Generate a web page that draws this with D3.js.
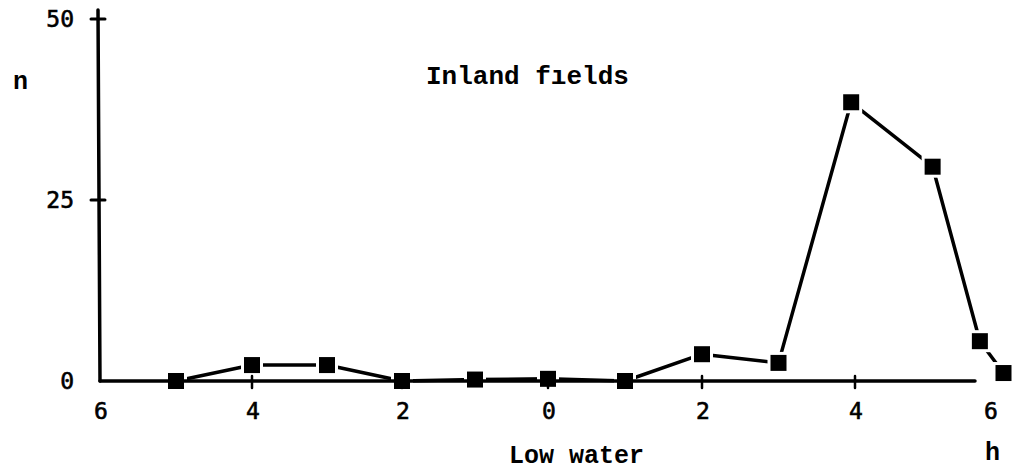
<!DOCTYPE html>
<html>
<head>
<meta charset="utf-8">
<script src="https://cdn.jsdelivr.net/npm/d3@7"></script>
<style>
  html, body { margin: 0; padding: 0; background: #fff; }
  svg { display: block; }
  .type { font-family: "Liberation Mono", "Courier New", monospace; fill: #000; font-weight: bold; }
  .num  { font-family: "DejaVu Sans Mono", monospace; fill: #000; }
</style>
</head>
<body>
<svg id="chart" width="1022" height="472"></svg>
<script>
// Hours relative to low water (negative = before, positive = after)
const hours  = [-5, -4, -3, -2, -1, 0, 1, 2, 3, 3.95, 5.15, 5.85, 6.2];
// Counts (n) per hour
const counts = [0, 2.2, 2.2, 0, 0.2, 0.3, 0, 3.7, 2.5, 38.5, 29.6, 5.5, 1.1];
// Axis ticks
const xTicks = [-6, -4, -2, 0, 2, 4, 6];
const yTicks = [0, 25, 50];

const svg = d3.select("#chart");

// Hand-spaced hour axis: labels run 6 … 0 … 6
const x = d3.scaleLinear()
  .domain([-6, -4, -2, 0, 2, 4, 6])
  .range([100, 252, 402, 548, 702, 855, 990]);
const y = d3.scaleLinear().domain([0, 50]).range([381, 19]);

const axisX0 = x(-6), axisX1 = 975;

// Connecting line
const line = d3.line().x((d, i) => x(hours[i])).y(d => y(d));
svg.append("path")
  .datum(counts)
  .attr("d", line)
  .attr("fill", "none")
  .attr("stroke", "#000")
  .attr("stroke-width", 3.5)
  .attr("stroke-linejoin", "round");

// White halos leave a small gap between the line and each marker
const sz = 16, halo = 22;
svg.append("g").selectAll("rect")
  .data(counts)
  .join("rect")
  .attr("x", (d, i) => x(hours[i]) - halo / 2)
  .attr("y", d => y(d) - halo / 2)
  .attr("width", halo)
  .attr("height", halo)
  .attr("fill", "#fff");

// Axes
const axisG = svg.append("g").attr("stroke", "#000").attr("stroke-linecap", "round");
axisG.append("line")
  .attr("x1", axisX0).attr("x2", axisX1)
  .attr("y1", y(0)).attr("y2", y(0))
  .attr("stroke-width", 3.5);
axisG.append("line")
  .attr("x1", axisX0 - 2).attr("x2", axisX0)
  .attr("y1", 10).attr("y2", y(0))
  .attr("stroke-width", 3.5);

// y ticks: short crossing marks
axisG.selectAll(".yt")
  .data(yTicks.filter(d => d > 0))
  .join("line")
  .attr("x1", axisX0 - 9).attr("x2", axisX0 + 5)
  .attr("y1", d => y(d)).attr("y2", d => y(d))
  .attr("stroke-width", 3);

// x ticks: short crossing marks
axisG.selectAll(".xt")
  .data(xTicks.filter(d => d > -6 && d < 6))
  .join("line")
  .attr("x1", d => x(d)).attr("x2", d => x(d))
  .attr("y1", y(0) - 5).attr("y2", y(0) + 7)
  .attr("stroke-width", 2.5);

// Tick labels
svg.append("g").selectAll("text")
  .data(yTicks)
  .join("text")
  .attr("class", "num")
  .attr("x", 74)
  .attr("y", d => y(d) + 8)
  .attr("text-anchor", "end")
  .attr("font-size", 23)
  .attr("stroke", "#000").attr("stroke-width", 0.6)
  .text(d => d);

svg.append("g").selectAll("text")
  .data(xTicks)
  .join("text")
  .attr("class", "num")
  .attr("x", d => x(d) + 1)
  .attr("y", 419)
  .attr("text-anchor", "middle")
  .attr("font-size", 23)
  .attr("stroke", "#000").attr("stroke-width", 0.6)
  .text(d => Math.abs(d));

// Markers
svg.append("g").selectAll("rect")
  .data(counts)
  .join("rect")
  .attr("x", (d, i) => x(hours[i]) - sz / 2)
  .attr("y", d => y(d) - sz / 2)
  .attr("width", sz)
  .attr("height", sz)
  .attr("fill", "#000");

// Labels
svg.append("text").attr("class", "type")
  .attr("x", 426).attr("y", 84).attr("font-size", 26)
  .text("Inland fıelds");
svg.append("text").attr("class", "type")
  .attr("x", 509).attr("y", 463).attr("font-size", 25)
  .text("Low water");
svg.append("text").attr("class", "type")
  .attr("x", 13).attr("y", 89).attr("font-size", 25)
  .text("n");
svg.append("text").attr("class", "type")
  .attr("x", 985).attr("y", 460).attr("font-size", 25)
  .text("h");
</script>
</body>
</html>
